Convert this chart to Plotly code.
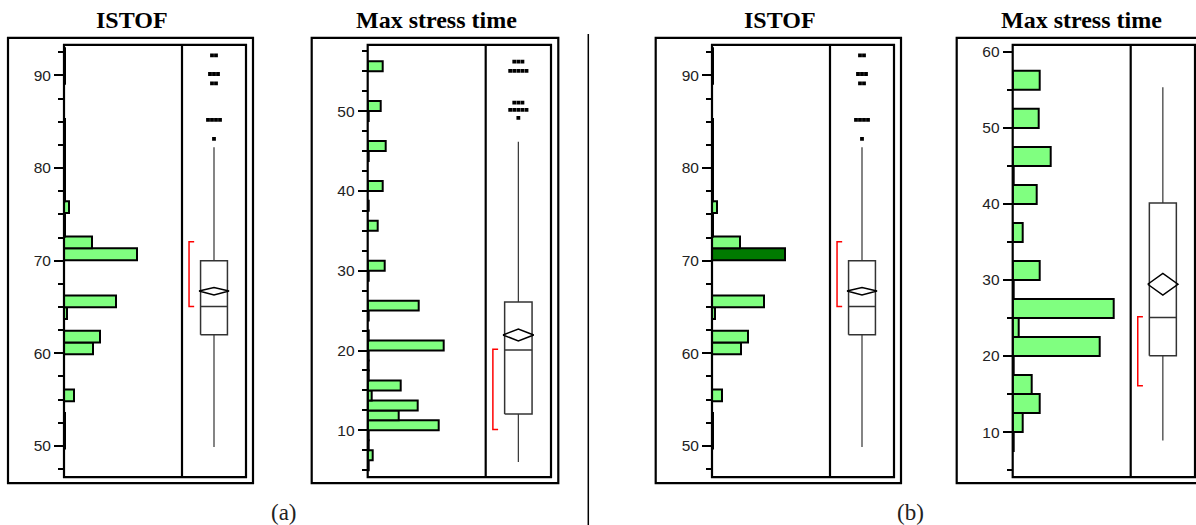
import plotly.graph_objects as go

W, H = 1196, 525

# ---------------- data ----------------
# ISTOF histogram (bin lower edges, counts), bin width 1.27
istof_bin_width = 1.27
istof_bin_lo = [49.74, 51.01, 52.28, 54.82, 59.90, 61.17, 63.71, 64.98, 70.06, 71.33,
                72.60, 73.87, 75.14, 76.41, 77.68, 78.95, 80.22, 81.49, 82.76, 84.03,
                89.11, 90.38, 91.65]
istof_counts = [1, 1, 1, 10, 29, 36, 3, 52, 73, 28,
                1, 1, 5, 1, 1, 1, 1, 1, 1, 1,
                1, 1, 1]
# ISTOF box statistics
istof_stats = dict(q1=62.0, median=65.05, q3=70.0, lo=49.9, hi=82.25,
                   mean=66.72, mean_lo=66.3, mean_hi=67.1, short_lo=65.05, short_hi=72.05)
istof_outliers = [83.16, 85.2, 85.2, 85.2, 85.2, 89.14, 89.14,
                  90.15, 90.15, 90.15, 92.17, 92.17]

# Max stress time (a): bin width 1.25
mst_a_bin_width = 1.25
mst_a_bin_lo = [5.0, 6.25, 7.5, 8.75, 10.0, 11.25, 12.5, 13.75, 15.0, 16.25, 17.5, 18.75,
                20.0, 21.25, 23.75, 25.0, 28.75, 30.0, 35.0, 37.5, 40.0, 43.75, 45.0,
                48.75, 50.0, 55.0]
mst_a_counts = [1, 5, 1, 1, 71, 31, 50, 4, 33, 1, 1, 1,
                76, 1, 1, 51, 1, 17, 10, 1, 15, 1, 18,
                1, 13, 15]
mst_a_stats = dict(q1=12.05, median=20.07, q3=26.07, lo=6.04, hi=46.17,
                   mean=21.95, mean_lo=21.2, mean_hi=22.7, short_lo=10.09, short_hi=20.16)
mst_a_outliers = [49.16, 50.16, 50.16, 50.16, 50.16, 50.16, 51.07, 51.07, 51.07,
                  55.03, 55.03, 55.03, 55.03, 55.03, 56.19, 56.19, 56.19]

# Max stress time (b): bin width 2.5
mst_b_bin_width = 2.5
mst_b_bin_lo = [7.5, 10.0, 12.5, 15.0, 17.5, 20.0, 22.5, 25.0, 27.5, 30.0, 35.0,
                40.0, 42.5, 45.0, 50.0, 55.0]
mst_b_counts = [1, 10, 27, 19, 1, 87, 6, 101, 1, 27, 10,
                24, 1, 38, 26, 27]
mst_b_stats = dict(q1=20.05, median=25.06, q3=40.13, lo=8.91, hi=55.33,
                   mean=29.44, mean_lo=28.02, mean_hi=30.86, short_lo=16.1, short_hi=25.16)
mst_b_outliers = []

# highlighted bin in panel (b) ISTOF
istof_b_highlight_lo = 70.06

titles = ["ISTOF", "Max stress time", "ISTOF", "Max stress time"]
sub_labels = ["(a)", "(b)"]

# ---------------- layout geometry (pixels) ----------------
TOP, BOT = 43, 477
panels = [
    dict(outer=(8, 36, 253, 483), L=64, D=182, R=246, yr=(46.63, 93.30), minor=2.5,
         tx=132, bins=(istof_bin_lo, istof_counts, istof_bin_width), stats=istof_stats,
         out=istof_outliers, hl=None),
    dict(outer=(311.7, 36, 558.3, 483), L=367.7, D=485.7, R=551, yr=(4.13, 58.3), minor=2.5,
         tx=436, bins=(mst_a_bin_lo, mst_a_counts, mst_a_bin_width), stats=mst_a_stats,
         out=mst_a_outliers, hl=None),
    dict(outer=(655.7, 36, 901, 483), L=712, D=830, R=894, yr=(46.63, 93.30), minor=2.5,
         tx=780, bins=(istof_bin_lo, istof_counts, istof_bin_width), stats=istof_stats,
         out=istof_outliers, hl=istof_b_highlight_lo),
    dict(outer=(956.7, 36, 1202, 483), L=1012.7, D=1130.7, R=1195, yr=(4.07, 60.92), minor=5,
         tx=1081, bins=(mst_b_bin_lo, mst_b_counts, mst_b_bin_width), stats=mst_b_stats,
         out=mst_b_outliers, hl=None),
]


def fx(x):
    return x / W


def fy(y):
    return 1 - y / H


LIGHT = "#80ff80"
DARK = "#007a00"
BOXC = "#333333"

fig = go.Figure()
layout = dict(
    width=W, height=H, margin=dict(l=0, r=0, t=0, b=0),
    paper_bgcolor="white", plot_bgcolor="rgba(0,0,0,0)",
    showlegend=False, shapes=[], annotations=[],
)

C, HW, DW = 0.5, 0.21, 0.235
BX, CAP = 0.11, 0.08
SP = 0.0625

for i, p in enumerate(panels):
    hx = 2 * i + 1
    bx = 2 * i + 2
    yi = i + 1
    hxn = "x" if hx == 1 else f"x{hx}"
    bxn = f"x{bx}"
    yn = "y" if yi == 1 else f"y{yi}"
    hxk = "xaxis" if hx == 1 else f"xaxis{hx}"
    bxk = f"xaxis{bx}"
    yk = "yaxis" if yi == 1 else f"yaxis{yi}"

    layout[hxk] = dict(domain=[fx(p["L"]), fx(p["D"])], range=[0, 118], visible=False,
                       anchor=yn, fixedrange=True)
    layout[bxk] = dict(domain=[fx(p["D"]), fx(p["R"])], range=[0, 1], visible=False,
                       anchor=yn, fixedrange=True)
    layout[yk] = dict(domain=[fy(BOT), fy(TOP)], range=list(p["yr"]), anchor=hxn,
                      showgrid=False, zeroline=False, showline=False,
                      ticks="outside", ticklen=9, tickwidth=2, tickcolor="black",
                      dtick=10, tick0=0,
                      tickfont=dict(family="Liberation Sans, Arial", size=15.5, color="#222"),
                      minor=dict(ticks="outside", ticklen=5, tickwidth=2, tickcolor="black",
                                 dtick=p["minor"], showgrid=False),
                      fixedrange=True)

    lo_list, cnt, bw = p["bins"]
    centers = [lo + bw / 2 for lo in lo_list]
    colors = [DARK if (p["hl"] is not None and abs(lo - p["hl"]) < 1e-6) else LIGHT
              for lo in lo_list]
    fig.add_trace(go.Bar(x=cnt, y=centers, width=bw, orientation="h", base=0,
                         marker=dict(color=colors, line=dict(color="black", width=2)),
                         xaxis=hxn, yaxis=yn, hoverinfo="skip"))

    s = p["stats"]
    line = dict(color=BOXC, width=1.5)
    # box
    fig.add_trace(go.Scatter(x=[C - HW, C + HW, C + HW, C - HW, C - HW],
                             y=[s["q1"], s["q1"], s["q3"], s["q3"], s["q1"]],
                             mode="lines", line=line, xaxis=bxn, yaxis=yn, hoverinfo="skip"))
    # median
    fig.add_trace(go.Scatter(x=[C - HW, C + HW], y=[s["median"], s["median"]],
                             mode="lines", line=line, xaxis=bxn, yaxis=yn, hoverinfo="skip"))
    # whiskers
    fig.add_trace(go.Scatter(x=[C, C, None, C, C],
                             y=[s["q3"], s["hi"], None, s["q1"], s["lo"]],
                             mode="lines", line=dict(color=BOXC, width=1.2),
                             xaxis=bxn, yaxis=yn, hoverinfo="skip"))
    # mean diamond
    fig.add_trace(go.Scatter(x=[C - DW, C, C + DW, C, C - DW],
                             y=[s["mean"], s["mean_hi"], s["mean"], s["mean_lo"], s["mean"]],
                             mode="lines", line=dict(color="black", width=1.5),
                             xaxis=bxn, yaxis=yn, hoverinfo="skip"))
    # shortest half bracket
    fig.add_trace(go.Scatter(x=[BX + CAP, BX, BX, BX + CAP],
                             y=[s["short_hi"], s["short_hi"], s["short_lo"], s["short_lo"]],
                             mode="lines", line=dict(color="red", width=1.5),
                             xaxis=bxn, yaxis=yn, hoverinfo="skip"))
    # outliers
    if p["out"]:
        groups = {}
        for v in p["out"]:
            groups[v] = groups.get(v, 0) + 1
        ox, oy = [], []
        for v, n in groups.items():
            for j in range(n):
                ox.append(C + (j - (n - 1) / 2) * SP)
                oy.append(v)
        fig.add_trace(go.Scatter(x=ox, y=oy, mode="markers",
                                 marker=dict(symbol="square", size=3.8, color="black"),
                                 xaxis=bxn, yaxis=yn, hoverinfo="skip"))

    # frames
    x0, y0, x1, y1 = p["outer"]
    layout["shapes"].append(dict(type="rect", xref="paper", yref="paper",
                                 x0=fx(x0), x1=fx(x1), y0=fy(y1), y1=fy(y0),
                                 line=dict(color="black", width=2.2)))
    layout["shapes"].append(dict(type="rect", xref="paper", yref="paper",
                                 x0=fx(p["L"]), x1=fx(p["R"]), y0=fy(BOT), y1=fy(TOP),
                                 line=dict(color="black", width=2.2)))
    layout["shapes"].append(dict(type="line", xref="paper", yref="paper",
                                 x0=fx(p["D"]), x1=fx(p["D"]), y0=fy(BOT), y1=fy(TOP),
                                 line=dict(color="black", width=2.2)))

    layout["annotations"].append(dict(text=f"<b>{titles[i]}</b>", xref="paper", yref="paper",
                                      x=fx(p["tx"]), y=fy(18), xanchor="center", yanchor="middle",
                                      showarrow=False,
                                      font=dict(family="Liberation Serif, Times New Roman",
                                                size=24, color="black")))

# separator
layout["shapes"].append(dict(type="line", xref="paper", yref="paper",
                             x0=fx(588.3), x1=fx(588.3), y0=0, y1=fy(32),
                             line=dict(color="black", width=1.5)))

for lab, xc in zip(sub_labels, [283.5, 910]):
    layout["annotations"].append(dict(text=lab, xref="paper", yref="paper",
                                      x=fx(xc), y=fy(512), xanchor="center", yanchor="middle",
                                      showarrow=False,
                                      font=dict(family="Liberation Serif, Times New Roman",
                                                size=23, color="#222")))

fig.update_layout(**layout)
fig.update_layout(barmode="overlay")
fig.write_html("out.html", config={"displayModeBar": False},
               post_script="document.body.style.margin='0';document.body.style.overflow='hidden';")
